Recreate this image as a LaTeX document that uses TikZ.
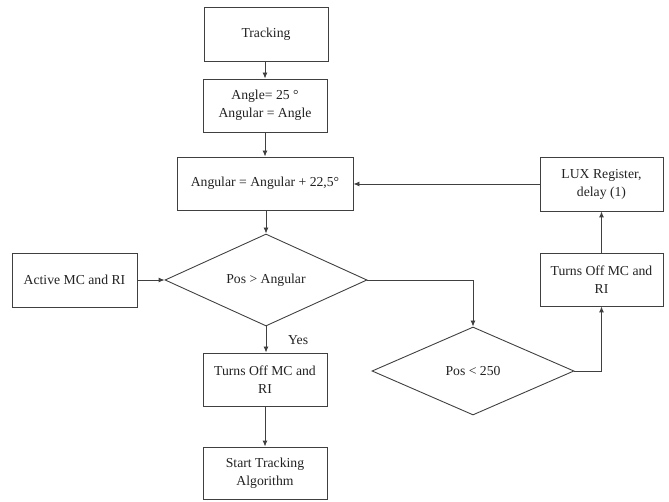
\documentclass[tikz,border=0pt]{standalone}
\usepackage{fontspec}
\setmainfont{Liberation Serif}
\usetikzlibrary{arrows.meta,shapes.geometric}
\definecolor{ln}{HTML}{404040}
\definecolor{tx}{HTML}{222222}
\tikzset{
  box/.style={draw=ln, line width=0.9pt, rectangle, align=center, inner sep=0pt, text=tx,
    font=\fontsize{13.7}{18}\selectfont},
  dec/.style={draw=ln, line width=0.9pt, diamond, aspect=2.2, inner sep=0pt, align=center, text=tx,
    font=\fontsize{13.7}{18}\selectfont},
  conn/.style={draw=ln, line width=0.9pt, -{Latex[length=6pt,width=5pt]}},
  lbl/.style={text=tx, font=\fontsize{13.7}{18}\selectfont, inner sep=0pt}
}
\begin{document}
\begin{tikzpicture}[x=1pt,y=-1pt]
\useasboundingbox (0,0) rectangle (669,502);
\node[box, minimum width=124pt, minimum height=54pt] (track) at (266,34) {Tracking};
\node[box, minimum width=124pt, minimum height=53pt] (angle) at (265,105.5) {Angle= 25 °\\Angular = Angle};
\node[box, minimum width=176pt, minimum height=53pt] (angular) at (265,183.5) {Angular = Angular + 22,5°};
\node[dec, minimum width=202pt, minimum height=92pt] (d1) at (266,280) {Pos > Angular};
\node[box, minimum width=125pt, minimum height=54pt] (active) at (74.5,280) {Active MC and RI};
\node[box, minimum width=124pt, minimum height=53pt] (off1) at (265,379.5) {Turns Off MC and\\RI};
\node[box, minimum width=124pt, minimum height=52pt] (start) at (265,473) {Start Tracking\\Algorithm};
\node[box, minimum width=123pt, minimum height=54pt] (lux) at (601.5,184) {LUX Register,\\delay (1)};
\node[box, minimum width=123pt, minimum height=53pt] (off2) at (601.5,279.5) {Turns Off MC and\\RI};
\node[dec, minimum width=202pt, minimum height=88pt] (d2) at (473,371) {Pos < 250};
\node[lbl, anchor=west] (yes) at (288,340) {Yes};

\draw[conn] (track.south -| angle.north) -- (angle.north);
\draw[conn] (angle) -- (angular);
\draw[conn] (angular.south -| d1.north) -- (d1.north);
\draw[conn] (active) -- (d1.west);
\draw[conn] (d1.south) -- (off1.north -| d1.south);
\draw[conn] (off1) -- (start);
\draw[conn] (d1.east) -| (d2.north);
\draw[conn] (d2.east) -| (off2.south);
\draw[conn] (off2) -- (lux);
\draw[conn] (lux.west) -- (angular.east |- lux.west);
\end{tikzpicture}
\end{document}
